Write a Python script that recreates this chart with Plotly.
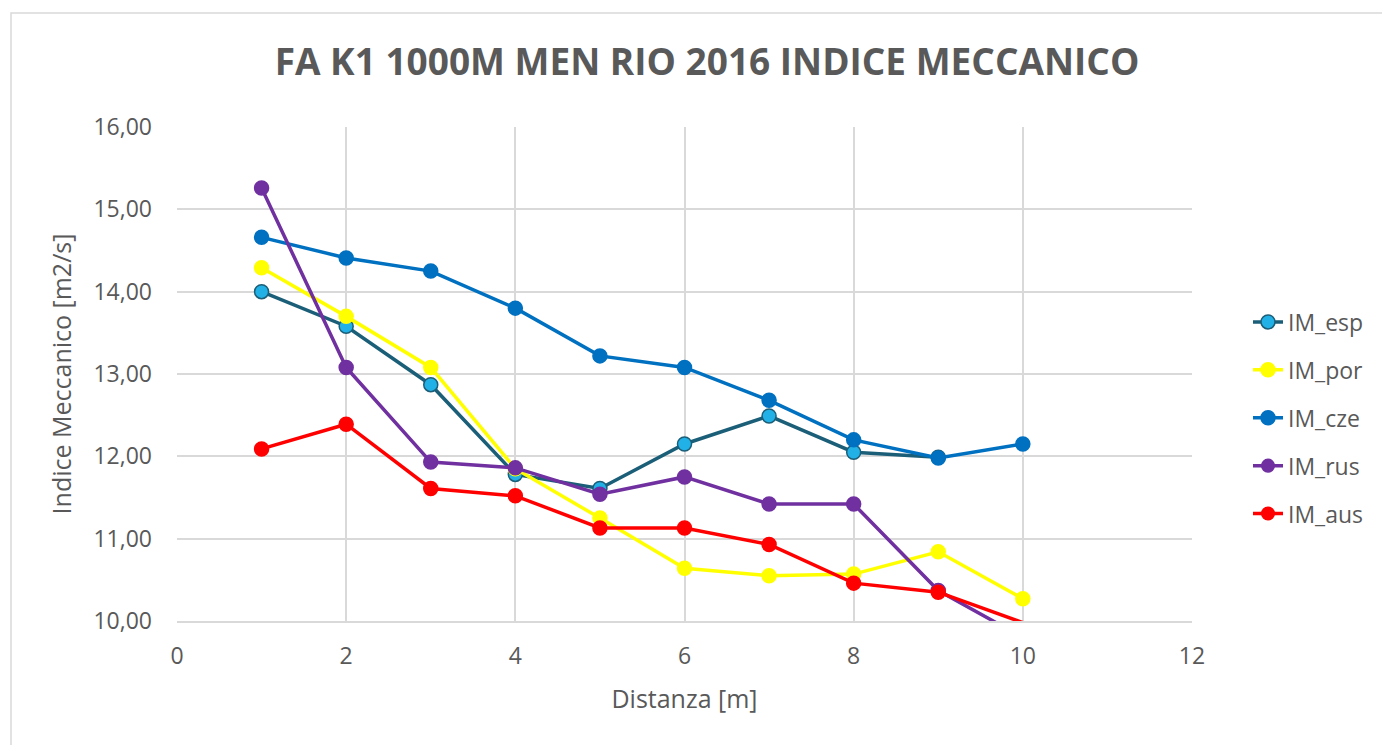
import plotly.graph_objects as go

distanza = [1, 2, 3, 4, 5, 6, 7, 8, 9, 10]

im_esp = [14.00, 13.58, 12.87, 11.78, 11.61, 12.15, 12.49, 12.05, 11.99]
im_por = [14.29, 13.70, 13.08, 11.85, 11.25, 10.64, 10.55, 10.57, 10.84, 10.27]
im_cze = [14.66, 14.41, 14.25, 13.80, 13.22, 13.08, 12.68, 12.20, 11.98, 12.15]
im_rus = [15.26, 13.08, 11.93, 11.86, 11.54, 11.75, 11.42, 11.42, 10.37, 9.80]
im_aus = [12.09, 12.39, 11.61, 11.52, 11.13, 11.13, 10.93, 10.46, 10.35, 9.98]

y_min, y_max = 10, 16

series = [
    ("IM_esp", im_esp, "#1B5E78", "#21B1E6", "#1B5E78"),
    ("IM_por", im_por, "#FFFF00", "#FFFF00", "#FFFF00"),
    ("IM_cze", im_cze, "#0070C0", "#0070C0", "#0070C0"),
    ("IM_rus", im_rus, "#7030A0", "#7030A0", "#7030A0"),
    ("IM_aus", im_aus, "#FF0000", "#FF0000", "#FF0000"),
]

fig = go.Figure()
for name, vals, lc, mf, ml in series:
    # like the original, markers outside the axis range are not shown
    sizes = [14 if v >= y_min else 0 for v in vals]
    fig.add_trace(go.Scatter(
        x=distanza[:len(vals)], y=vals, name=name, mode="lines+markers",
        line=dict(color=lc, width=3.5),
        marker=dict(size=sizes, color=mf, opacity=1, line=dict(color=ml, width=1.5)),
        legendgroup=name,
    ))

grey = "#595959"
L, R, T, B = 169, 206, 119, 132
plot_w = 1390 - L - R
plot_h = 745 - T - B
fig.update_layout(
    width=1390, height=745,
    paper_bgcolor="white", plot_bgcolor="white",
    margin=dict(l=L, r=R, t=T, b=B),
    separators=",.",
    font=dict(family="Open Sans", color=grey, size=23),
    title=dict(text="<b>FA K1 1000M MEN RIO 2016 INDICE MECCANICO</b>",
               x=699 / 1390, xref="container", xanchor="center",
               y=1 - 54 / 745, yref="container", yanchor="middle",
               font=dict(size=37, color=grey, family="Open Sans")),
    legend=dict(x=(1248 - 177) / plot_w, xanchor="left",
                y=(745 - B - 410) / plot_h, yanchor="middle",
                font=dict(size=23, color=grey), tracegroupgap=15,
                bgcolor="rgba(0,0,0,0)"),
    showlegend=True,
    shapes=[dict(type="rect", xref="paper", yref="paper",
                 x0=(3 - L) / plot_w, x1=(1420 - L) / plot_w,
                 y0=(745 - B - 780) / plot_h, y1=(745 - B - 5) / plot_h,
                 line=dict(color="#D9D9D9", width=1.5), fillcolor="rgba(0,0,0,0)",
                 layer="below")],
)
fig.update_xaxes(range=[0, 12], dtick=2, tick0=0, showgrid=True, gridcolor="#D9D9D9",
                 gridwidth=1.5, zeroline=False, showline=True, linecolor="#D9D9D9",
                 linewidth=1.5, mirror=False, ticks="", tickfont=dict(size=23, color=grey),
                 ticklabelstandoff=14,
                 title=dict(text="Distanza [m]", font=dict(size=25, color=grey), standoff=20))
fig.update_yaxes(range=[y_min, y_max], dtick=1, tickformat=".2f", showgrid=True, gridcolor="#D9D9D9",
                 gridwidth=1.5, zeroline=False, showline=False, ticks="",
                 tickfont=dict(size=23, color=grey), ticklabelstandoff=24,
                 title=dict(text="Indice Meccanico [m2/s]", font=dict(size=25, color=grey), standoff=14))

fig.write_html("out.html")
